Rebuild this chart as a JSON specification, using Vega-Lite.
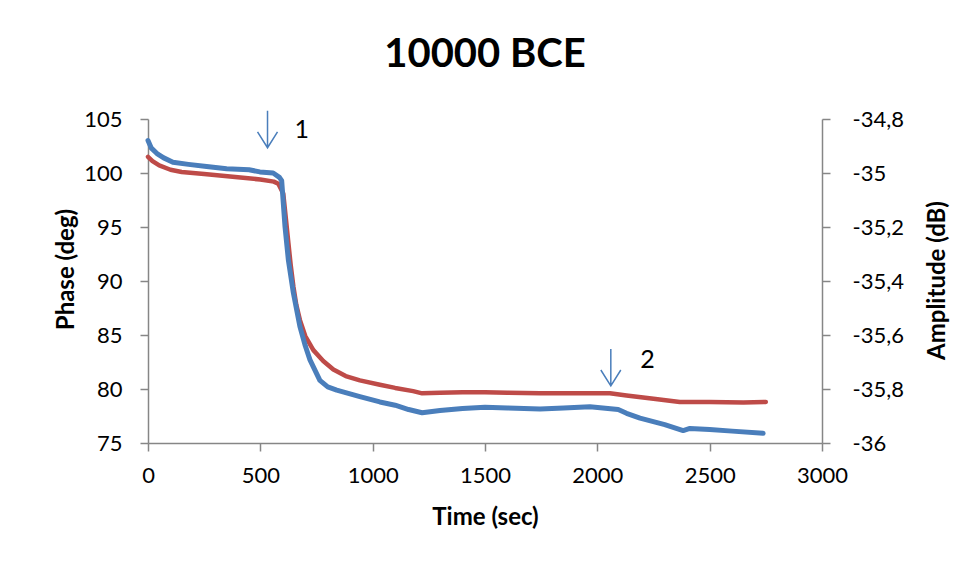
{
  "$schema": "https://vega.github.io/schema/vega-lite/v6.json",
  "autosize": "none",
  "width": 674,
  "height": 324,
  "padding": {"left": 148, "top": 119, "right": 142, "bottom": 119},
  "background": "white",
  "title": {"text": "10000 BCE", "font": "Lato", "fontSize": 40, "fontWeight": "bold", "color": "black", "anchor": "middle", "baseline": "alphabetic", "offset": 1},
  "config": {
    "view": {"stroke": null},
    "axis": {
      "domainColor": "#868686", "domainWidth": 1.5, "tickColor": "#868686", "tickWidth": 1.5, "tickSize": 8,
      "grid": false, "labelFont": "Lato", "labelFontSize": 22, "labelColor": "black", "labelFlush": false,
      "titleFont": "Lato", "titleFontSize": 24, "titleFontWeight": "bold", "titleColor": "black"
    }
  },
  "datasets": {
    "phase": [
      {"time": 0, "phase": 103.0}, {"time": 15, "phase": 102.3}, {"time": 40, "phase": 101.8},
      {"time": 70, "phase": 101.4}, {"time": 111, "phase": 101.0}, {"time": 180, "phase": 100.8},
      {"time": 261, "phase": 100.6}, {"time": 350, "phase": 100.4}, {"time": 450, "phase": 100.3},
      {"time": 498, "phase": 100.1}, {"time": 557, "phase": 100.0}, {"time": 585, "phase": 99.6},
      {"time": 595, "phase": 99.3}, {"time": 610, "phase": 95.0}, {"time": 625, "phase": 91.9},
      {"time": 647, "phase": 88.9}, {"time": 676, "phase": 85.8}, {"time": 700, "phase": 84.0},
      {"time": 721, "phase": 82.7}, {"time": 765, "phase": 80.8}, {"time": 800, "phase": 80.2},
      {"time": 840, "phase": 79.9}, {"time": 943, "phase": 79.3}, {"time": 1032, "phase": 78.8},
      {"time": 1100, "phase": 78.5}, {"time": 1160, "phase": 78.1}, {"time": 1220, "phase": 77.8},
      {"time": 1300, "phase": 78.0}, {"time": 1400, "phase": 78.2}, {"time": 1500, "phase": 78.3},
      {"time": 1600, "phase": 78.25}, {"time": 1745, "phase": 78.15}, {"time": 1850, "phase": 78.25},
      {"time": 1967, "phase": 78.35}, {"time": 2093, "phase": 78.1}, {"time": 2130, "phase": 77.75},
      {"time": 2190, "phase": 77.3}, {"time": 2300, "phase": 76.7}, {"time": 2382, "phase": 76.15},
      {"time": 2412, "phase": 76.35}, {"time": 2500, "phase": 76.25}, {"time": 2600, "phase": 76.1},
      {"time": 2738, "phase": 75.9}
    ],
    "amplitude": [
      {"time": 0, "amp": -34.94}, {"time": 20, "amp": -34.956}, {"time": 50, "amp": -34.972},
      {"time": 100, "amp": -34.988}, {"time": 150, "amp": -34.996}, {"time": 250, "amp": -35.004},
      {"time": 400, "amp": -35.016}, {"time": 500, "amp": -35.024}, {"time": 560, "amp": -35.032},
      {"time": 580, "amp": -35.04}, {"time": 602, "amp": -35.076}, {"time": 615, "amp": -35.18},
      {"time": 625, "amp": -35.26}, {"time": 635, "amp": -35.34}, {"time": 647, "amp": -35.42},
      {"time": 660, "amp": -35.488}, {"time": 676, "amp": -35.544}, {"time": 700, "amp": -35.604},
      {"time": 736, "amp": -35.656}, {"time": 780, "amp": -35.696}, {"time": 825, "amp": -35.728},
      {"time": 880, "amp": -35.752}, {"time": 943, "amp": -35.768}, {"time": 1032, "amp": -35.784},
      {"time": 1100, "amp": -35.796}, {"time": 1180, "amp": -35.808}, {"time": 1220, "amp": -35.816},
      {"time": 1300, "amp": -35.814}, {"time": 1400, "amp": -35.812}, {"time": 1500, "amp": -35.812},
      {"time": 1600, "amp": -35.814}, {"time": 1745, "amp": -35.816}, {"time": 1900, "amp": -35.816},
      {"time": 2056, "amp": -35.816}, {"time": 2130, "amp": -35.824}, {"time": 2250, "amp": -35.836},
      {"time": 2367, "amp": -35.848}, {"time": 2500, "amp": -35.848}, {"time": 2650, "amp": -35.85},
      {"time": 2750, "amp": -35.848}
    ],
    "marks": [
      {"time": 532, "phase": 104.05, "label": "1", "ltime": 684, "lphase": 103.94},
      {"time": 2060, "phase": 82.0, "label": "2", "ltime": 2223, "lphase": 82.69}
    ]
  },
  "layer": [
    {
      "data": {"name": "amplitude"},
      "mark": {"type": "line", "color": "#BE4B48", "strokeWidth": 4.5, "strokeCap": "round", "strokeJoin": "round"},
      "encoding": {
        "x": {"field": "time", "type": "quantitative", "scale": {"domain": [0, 3000], "nice": false},
              "axis": {"values": [0, 500, 1000, 1500, 2000, 2500, 3000], "title": "Time (sec)", "labelExpr": "toString(datum.value)", "labelPadding": 14, "titleY": 74, "titleBaseline": "middle"}},
        "y": {"field": "amp", "type": "quantitative", "scale": {"domain": [-36, -34.8], "nice": false, "zero": false},
              "axis": {"orient": "right", "values": [-36, -35.8, -35.6, -35.4, -35.2, -35, -34.8], "title": "Amplitude (dB)",
                       "labelExpr": "replace(toString(datum.value), '.', ',')", "labelPadding": 22,
                       "titleAngle": 270, "titleX": 115, "titleY": 161, "titleBaseline": "middle"}}
      }
    },
    {
      "layer": [
        {
          "data": {"name": "phase"},
          "mark": {"type": "line", "color": "#4A7EBB", "strokeWidth": 5, "strokeCap": "round", "strokeJoin": "round"},
          "encoding": {
            "x": {"field": "time", "type": "quantitative", "scale": {"domain": [0, 3000], "nice": false}},
            "y": {"field": "phase", "type": "quantitative", "scale": {"domain": [75, 105], "nice": false, "zero": false},
                  "axis": {"orient": "left", "values": [75, 80, 85, 90, 95, 100, 105], "title": "Phase (deg)", "labelPadding": 18,
                           "titleAngle": 270, "titleX": -82, "titleY": 150, "titleBaseline": "middle"}}
          }
        },
        {
          "data": {"name": "marks"},
          "mark": {"type": "point", "shape": "M0,-1L0,1M-0.54,0.14L0,1L0.54,0.14", "size": 1369, "filled": false, "stroke": "#4A7EBB", "strokeWidth": 1.5, "opacity": 1},
          "encoding": {
            "x": {"field": "time", "type": "quantitative"},
            "y": {"field": "phase", "type": "quantitative"}
          }
        },
        {
          "data": {"name": "marks"},
          "mark": {"type": "text", "font": "Lato", "fontSize": 25, "color": "black", "baseline": "middle", "align": "center"},
          "encoding": {
            "x": {"field": "ltime", "type": "quantitative"},
            "y": {"field": "lphase", "type": "quantitative"},
            "text": {"field": "label"}
          }
        }
      ]
    }
  ],
  "resolve": {"scale": {"y": "independent"}}
}
